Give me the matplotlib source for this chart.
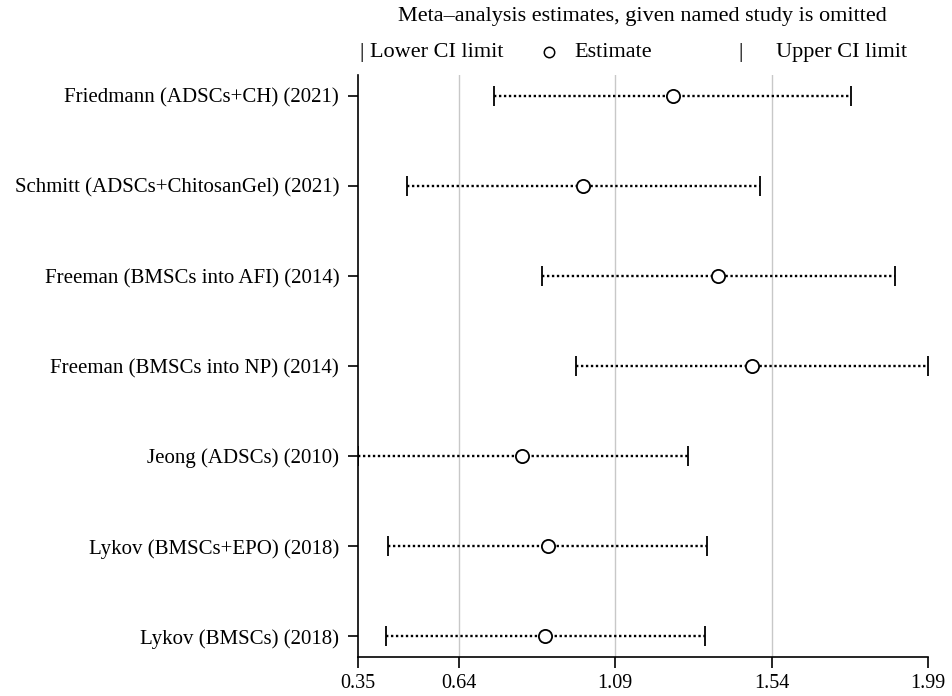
import matplotlib
matplotlib.use("Agg")
from matplotlib import pyplot as plt

plt.rcParams['font.family'] = ['Liberation Serif', 'DejaVu Serif']
plt.rcParams['font.size'] = 15

# sensitivity analysis: pooled estimate with one study left out
studies = ["Friedmann (ADSCs+CH) (2021)",
           "Schmitt (ADSCs+ChitosanGel) (2021)",
           "Freeman (BMSCs into AFI) (2014)",
           "Freeman (BMSCs into NP) (2014)",
           "Jeong (ADSCs) (2010)",
           "Lykov (BMSCs+EPO) (2018)",
           "Lykov (BMSCs) (2018)"]
lower = [0.741, 0.491, 0.879, 0.977, 0.350, 0.436, 0.430]
estimate = [1.256, 0.997, 1.386, 1.483, 0.822, 0.897, 0.888]
upper = [1.768, 1.507, 1.895, 1.990, 1.299, 1.354, 1.348]
xticks = [0.35, 0.64, 1.09, 1.54, 1.99]
xticklabels = ["0.35", "0.64", "1.09", "1.54", "1.99"]

fig = plt.figure(figsize=(9.52, 6.96), dpi=100)
ax = fig.add_axes([358 / 952, 1 - 657 / 696, 570 / 952, 582 / 696])

n = len(studies)
ypos = list(range(n, 0, -1))

for g in xticks[1:-1]:
    ax.axvline(g, color='#c8c8c8', lw=1.0, zorder=0)

for y, lo, est, hi in zip(ypos, lower, estimate, upper):
    ax.plot([lo, hi], [y, y], color='black', ls=(0, (1, 1.1)), lw=1.7, zorder=2)
    ax.plot([lo, hi], [y, y], ls='none', marker='|', ms=15, mew=1.3, color='black', zorder=3)
    ax.plot([est], [y], ls='none', marker='o', ms=9.5, mfc='white', mec='black', mew=1.3, zorder=4)

ax.set_xlim(0.35, 1.99)
ax.set_ylim(0.77, n + 0.23)
ax.set_xticks(xticks)
ax.set_xticklabels(xticklabels, fontsize=14.5)
ax.set_yticks(ypos)
ax.set_yticklabels(studies)
ax.tick_params(axis='x', length=8, width=1.2, pad=4)
ax.tick_params(axis='y', length=7, width=1.2, pad=6.5)
for s in ['top', 'right']:
    ax.spines[s].set_visible(False)
for s in ['left', 'bottom']:
    ax.spines[s].set_linewidth(1.2)

# header and legend row
fig.text(642 / 952, 1 - 17 / 696, "Meta\u2013analysis estimates, given named study is omitted",
         ha='center', va='center', fontsize=16)
ly = 1 - 57 / 696
fig.text(360 / 952, ly, "| Lower CI limit", ha='left', va='baseline', fontsize=16)
ax.plot([549 / 952], [1 - 52 / 696], transform=fig.transFigure, clip_on=False,
        marker='o', ms=7.5, mfc='white', mec='black', mew=1.1)
fig.text(574 / 952, ly, "Estimate", ha='left', va='baseline', fontsize=16)
fig.text(741 / 952, ly, "|", ha='center', va='baseline', fontsize=16)
fig.text(776 / 952, ly, "Upper CI limit", ha='left', va='baseline', fontsize=16)

fig.savefig("out.png", dpi=100)
